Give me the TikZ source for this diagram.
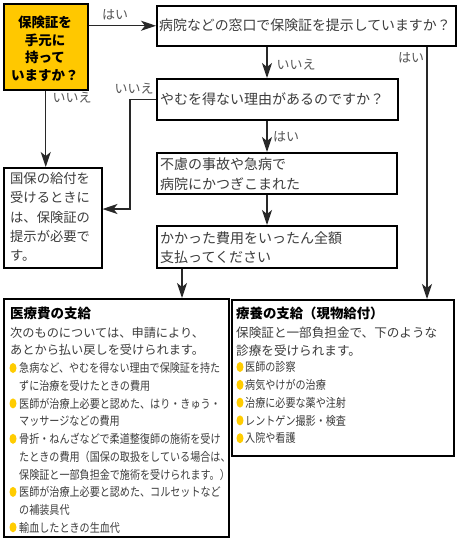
\documentclass[tikz,border=0pt]{standalone}
\usepackage{fontspec}
\setmainfont{Noto Sans CJK JP}
\newfontfamily\jpn{Noto Sans CJK JP}[FakeStretch=0.84]
\usetikzlibrary{arrows.meta}
\definecolor{ykey}{RGB}{255,200,0}
\definecolor{bul}{RGB}{255,204,0}
\definecolor{txt}{RGB}{60,60,60}
\definecolor{lbl}{RGB}{85,85,85}
\definecolor{lin}{RGB}{40,40,40}
\begin{document}
\begin{tikzpicture}[x=1pt,y=-1pt,
  box/.style={draw=black,line width=1.5pt,inner sep=0pt,anchor=north west},
  tx/.style={inner sep=0pt,anchor=north west,align=left,text=txt},
  lab/.style={inner sep=0pt,text=lbl,font=\fontsize{13}{15}\selectfont},
  conn/.style={draw=lin,line width=1.4pt,-{Stealth[length=15pt,width=10pt,inset=4pt]}},
  ]
\useasboundingbox[fill=white] (0,0) rectangle (460,550);
% boxes
\node[box,fill=ykey,minimum width=84pt,minimum height=86pt] (Y) at (3,3) {};
\node[box,minimum width=299pt,minimum height=40pt] (Q1) at (156,5) {};
\node[box,minimum width=241pt,minimum height=41pt] (Q2) at (156,78) {};
\node[box,minimum width=240pt,minimum height=41pt] (B3) at (156,152) {};
\node[box,minimum width=240pt,minimum height=42pt] (B4) at (156,225) {};
\node[box,minimum width=98pt,minimum height=100pt] (K) at (3,167) {};
\node[box,minimum width=225pt,minimum height=238pt] (I) at (3,298) {};
\node[box,minimum width=222pt,minimum height=156pt] (R) at (231,299) {};
% texts
\node[tx,anchor=north,align=center,text=black,font=\bfseries\fontsize{13.5}{17.5}\selectfont] (Yt) at (45,16) {保険証を\\手元に\\持って\\いますか？};
\node[tx,font=\fontsize{13.9}{20}\selectfont] (Q1t) at (159,19) {病院などの窓口で保険証を提示していますか？};
\node[tx,font=\fontsize{14}{20}\selectfont] (Q2t) at (160,92) {やむを得ない理由があるのですか？};
\node[tx,font=\fontsize{14}{20}\selectfont] (B3t) at (160,157) {不慮の事故や急病で\\病院にかつぎこまれた};
\node[tx,font=\fontsize{14}{19}\selectfont] (B4t) at (160,232) {かかった費用をいったん全額\\支払ってください};
\node[tx,font=\fontsize{13.3}{19.4}\selectfont] (Kt) at (10,172) {国保の給付を\\受けるときに\\は、保険証の\\提示が必要で\\す。};
% iryo box
\node[tx,text=black,font=\bfseries\fontsize{13.5}{17}\selectfont] (It) at (10,307) {医療費の支給};
\node[tx,font=\fontsize{12.2}{17}\selectfont] (Ib) at (10,327.5) {次のものについては、申請により、\\あとから払い戻しを受けられます。};
\node[tx,font=\jpn\fontsize{12}{17.7}\selectfont] (Il) at (19,362.5) {急病など、やむを得ない理由で保険証を持た\\ずに治療を受けたときの費用\\医師が治療上必要と認めた、はり・きゅう・\\マッサージなどの費用\\骨折・ねんざなどで柔道整復師の施術を受け\\たときの費用（国保の取扱をしている場合は、\\保険証と一部負担金で施術を受けられます。）\\医師が治療上必要と認めた、コルセットなど\\の補装具代\\輸血したときの生血代};
\foreach \yy in {368,403.4,438.8,491.9,527.3}
  \fill[bul] (13,\yy) ellipse [x radius=3.5pt, y radius=5pt];
% ryoyo box
\node[tx,text=black,font=\bfseries\fontsize{13.4}{17}\selectfont] (Rt) at (236,307) {療養の支給（現物給付）};
\node[tx,font=\fontsize{12.6}{18}\selectfont] (Rb) at (236,326.5) {保険証と一部負担金で、下のような\\診療を受けられます。};
\node[tx,font=\jpn\fontsize{12}{17.8}\selectfont] (Rl) at (245,361.5) {医師の診察\\病気やけがの治療\\治療に必要な薬や注射\\レントゲン撮影・検査\\入院や看護};
\foreach \yy in {367,384.8,402.6,420.4,438.2}
  \fill[bul] (240,\yy) ellipse [x radius=3.5pt, y radius=5pt];
% labels
\node[lab] (l1) at (115,15) {はい};
\node[lab] (l2) at (72,98) {いいえ};
\node[lab] (l3) at (134,89) {いいえ};
\node[lab] (l4) at (296,65) {いいえ};
\node[lab] (l5) at (411,58) {はい};
\node[lab] (l6) at (286,137) {はい};
% connectors
\coordinate (vx) at (267,0);
\coordinate (vr) at (427,0);
\coordinate (vb) at (182,0);
\coordinate (bend) at (130,209);
\draw[conn] (Y.east |- Q1.west) -- (Q1.west);
\draw[conn] (Y.south) -- (Y.south |- K.north);
\draw[conn] (Q1.south -| vx) -- (Q2.north -| vx);
\draw[conn] (Q1.south -| vr) -- (R.north -| vr);
\draw[conn] (Q2.west) -| (bend) -- (K.east |- bend);
\draw[conn] (Q2.south -| vx) -- (B3.north -| vx);
\draw[conn] (B3.south -| vx) -- (B4.north -| vx);
\draw[conn] (B4.south -| vb) -- (I.north -| vb);
\end{tikzpicture}
\end{document}
